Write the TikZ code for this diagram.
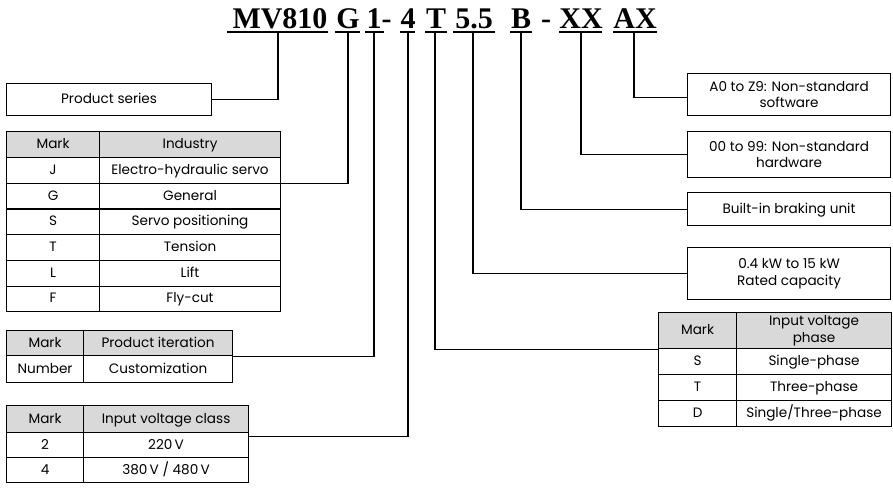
\documentclass[tikz,border=0pt]{standalone}
\usepackage{fontspec}
\setmainfont{Poppins}
\newfontfamily\titlefont{Liberation Serif}
\definecolor{hdrgray}{HTML}{D9D9D9}
\newcommand\bodysz{\fontsize{13.6}{16.5}\selectfont}
\begin{document}
\begin{tikzpicture}[x=1pt,y=-1pt,line width=1.1pt,
  cell/.style={draw, anchor=north west, inner sep=0pt, align=center, font=\bodysz, text height=10pt, text depth=2pt},
  hdr/.style={cell, fill=hdrgray},
  box/.style={draw, anchor=north west, inner sep=0pt, align=center, font=\bodysz},
  one/.style={text height=10pt, text depth=2pt},
  ttl/.style={anchor=base, inner sep=0pt, font=\titlefont\bfseries\fontsize{30}{30}\selectfont},
  conn/.style={line width=1.1pt}]
\fill[white] (0,0) rectangle (893,488);
\useasboundingbox (0,0) rectangle (893,488);
% title
\node[ttl] (mv) at (280,28) {MV810};
\node[ttl] (g) at (348,28) {G};
\node[ttl, anchor=base west] (one) at (366,28) {1-};
\node[ttl] (four) at (408,28) {4};
\node[ttl] (tt) at (436,28) {T};
\node[ttl] (ff) at (474,28) {5.5};
\node[ttl] (bb) at (521,28) {B};
\node[ttl] (dsh) at (546,28) {-};
\node[ttl] (xx) at (581,28) {XX};
\node[ttl] (ax) at (635,28) {AX};
\foreach \a/\b in {227/328,335/360,365/384,400/415,425/447,453/495,510/532,559/602,613/657}
  \draw (\a,32) -- (\b,32);
\coordinate (t-mv) at (278,32);
\coordinate (t-g) at (348,32);
\coordinate (t-1) at (374,32);
\coordinate (t-4) at (408,32);
\coordinate (t-T) at (435,32);
\coordinate (t-55) at (473,32);
\coordinate (t-B) at (521,32);
\coordinate (t-XX) at (581,32);
\coordinate (t-AX) at (634,32);
% product series
\node[box, one, minimum width=205pt, minimum height=32pt] (series) at (6,83) {Product series};
% industry table
\node[hdr, minimum width=93pt, minimum height=26pt] (ind-h-1) at (6,131) {Mark};
\node[hdr, minimum width=181pt, minimum height=26pt] (ind-h-2) at (99,131) {Industry};
\foreach \m/\d [count=\i] in {J/Electro-hydraulic servo,G/General,S/Servo positioning,T/Tension,L/Lift,F/Fly-cut}{
  \node[cell, minimum width=93pt, minimum height=25.7pt] (ind-\i-1) at (6,{157+(\i-1)*25.7}) {\m};
  \node[cell, minimum width=181pt, minimum height=25.7pt] (ind-\i-2) at (99,{157+(\i-1)*25.7}) {\d};
}
% product iteration
\node[hdr, minimum width=77pt, minimum height=25pt] (it-h-1) at (6,330) {Mark};
\node[hdr, minimum width=149pt, minimum height=25pt] (it-h-2) at (83,330) {Product iteration};
\node[cell, minimum width=77pt, minimum height=27pt] (it-1-1) at (6,355) {Number};
\node[cell, minimum width=149pt, minimum height=27pt] (it-1-2) at (83,355) {Customization};
% voltage class
\node[hdr, minimum width=77pt, minimum height=27pt] (vc-h-1) at (6,405) {Mark};
\node[hdr, minimum width=165pt, minimum height=27pt] (vc-h-2) at (83,405) {Input voltage class};
\node[cell, minimum width=77pt, minimum height=25pt] (vc-1-1) at (6,432) {2};
\node[cell, minimum width=165pt, minimum height=25pt] (vc-1-2) at (83,432) {220\,V};
\node[cell, minimum width=77pt, minimum height=25pt] (vc-2-1) at (6,457) {4};
\node[cell, minimum width=165pt, minimum height=25pt] (vc-2-2) at (83,457) {380\,V / 480\,V};
% right boxes
\node[box, minimum width=203pt, minimum height=42pt] (sw) at (687,73) {A0 to Z9: Non-standard\\software};
\node[box, minimum width=203pt, minimum height=46pt] (hw) at (687,131) {00 to 99: Non-standard\\hardware};
\node[box, one, minimum width=203pt, minimum height=33pt] (brk) at (687,192) {Built-in braking unit};
\node[box, minimum width=203pt, minimum height=52pt] (cap) at (687,247) {0.4 kW to 15 kW\\Rated capacity};
% phase table
\node[hdr, minimum width=78pt, minimum height=36pt] (ph-h-1) at (658,312) {Mark};
\node[draw, fill=hdrgray, anchor=north west, inner sep=0pt, align=center, font=\bodysz, minimum width=155pt, minimum height=36pt] (ph-h-2) at (736,312) {Input voltage\\phase};
\foreach \m/\d [count=\i] in {S/Single-phase,T/Three-phase,D/{Single/Three-phase}}{
  \node[cell, minimum width=78pt, minimum height=26pt] (ph-\i-1) at (658,{348+(\i-1)*26}) {\m};
  \node[cell, minimum width=155pt, minimum height=26pt] (ph-\i-2) at (736,{348+(\i-1)*26}) {\d};
}
% connectors
\draw[conn] (t-mv) |- (series.east);
\draw[conn] (t-g) |- (ind-1-2.south east);
\draw[conn] (t-1) |- (it-h-2.south east);
\draw[conn] (t-4) |- ([yshift=-3pt]vc-h-2.south east);
\draw[conn] (t-T) |- (ph-h-1.south west);
\draw[conn] (t-55) |- (cap.west);
\draw[conn] (t-B) |- (brk.west);
\draw[conn] (t-XX) |- (hw.west);
\draw[conn] (t-AX) |- ([yshift=-3pt]sw.west);
\end{tikzpicture}
\end{document}
